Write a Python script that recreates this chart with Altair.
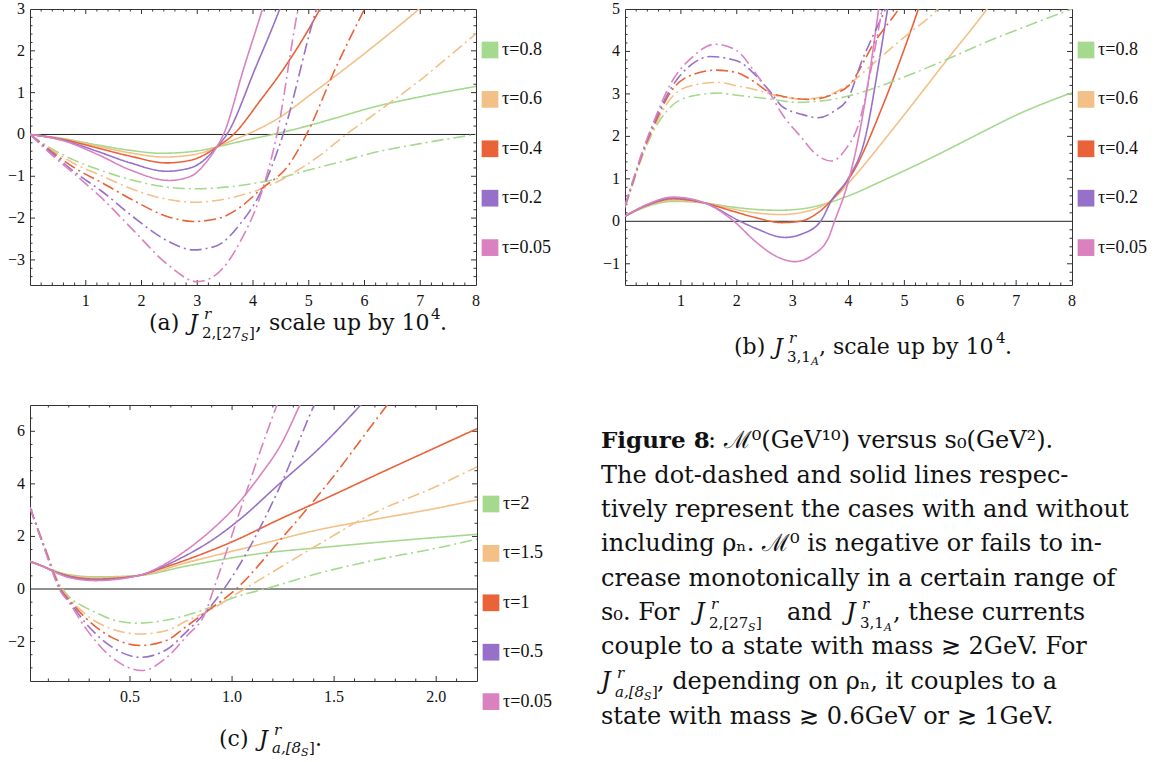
import altair as alt
import pandas as pd

SERIF = "Liberation Serif"
TXT = "DejaVu Serif"
COLORS = ["#A5D98E", "#F3C087", "#E96238", "#9771C9", "#DA82C0"]
TAU_AB = ["τ=0.8", "τ=0.6", "τ=0.4", "τ=0.2", "τ=0.05"]
TAU_C = ["τ=2", "τ=1.5", "τ=1", "τ=0.5", "τ=0.05"]
DOTDASH = [12, 4, 2, 4]

# tick labels
XLAB_AB = [1, 2, 3, 4, 5, 6, 7, 8]
XLAB_AB_TXT = ["1", "2", "3", "4", "5", "6", "7", "8"]
YLAB_A = [-3, -2, -1, 0, 1, 2, 3]
YLAB_A_TXT = ["−3", "−2", "−1", "0", "1", "2", "3"]
YLAB_B = [-1, 0, 1, 2, 3, 4, 5]
YLAB_B_TXT = ["−1", "0", "1", "2", "3", "4", "5"]
XLAB_C = [0.5, 1.0, 1.5, 2.0]
XLAB_C_TXT = ["0.5", "1.0", "1.5", "2.0"]
YLAB_C = [-2, 0, 2, 4, 6]
YLAB_C_TXT = ["−2", "0", "2", "4", "6"]

# ---------------- panel (a) ----------------
a_s_08 = [(0,0),(0.6,-0.1),(1.2,-0.25),(1.8,-0.38),(2.35,-0.45),(2.9,-0.41),(3.15,-0.36),(3.35,-0.30),(3.7,-0.19),(4.0,-0.1),(4.36,0),(5.02,0.22),(5.5,0.4),(6.09,0.63),(7,0.9),(8,1.15)]
a_s_06 = [(0,0),(0.6,-0.11),(1.2,-0.28),(1.8,-0.44),(2.4,-0.54),(2.9,-0.49),(3.15,-0.41),(3.35,-0.30),(3.6,-0.16),(3.89,0),(4.48,0.41),(5.0,0.92),(5.49,1.41),(6.09,2.03),(6.98,3.0),(7.5,3.6),(8,4.2)]
a_s_04 = [(0,0),(0.6,-0.12),(1.2,-0.32),(1.8,-0.52),(2.45,-0.68),(2.9,-0.61),(3.15,-0.47),(3.35,-0.30),(3.65,0),(4.13,0.81),(4.57,1.61),(5.2,3.0),(5.5,3.8)]
a_s_02 = [(0,0),(0.6,-0.14),(1.2,-0.4),(1.8,-0.68),(2.45,-0.88),(2.9,-0.79),(3.15,-0.58),(3.35,-0.30),(3.53,0),(4.05,1.61),(4.48,3.0),(4.7,3.8)]
a_s_005 = [(0,0),(0.6,-0.15),(1.2,-0.47),(1.8,-0.85),(2.5,-1.1),(2.9,-0.99),(3.15,-0.68),(3.35,-0.30),(3.47,0),(3.84,1.61),(4.17,3.0),(4.35,3.8)]

a_d_08 = [(0,0),(0.4,-0.35),(0.8,-0.62),(1.27,-0.86),(1.86,-1.1),(2.46,-1.26),(2.93,-1.30),(3.35,-1.28),(3.77,-1.22),(4.3,-1.10),(5.0,-0.85),(5.5,-0.68),(6.09,-0.46),(7,-0.22),(8,0.0)]
a_d_06 = [(0,0),(0.4,-0.38),(0.8,-0.7),(1.27,-0.98),(1.86,-1.32),(2.46,-1.55),(2.93,-1.62),(3.35,-1.58),(3.77,-1.46),(4.15,-1.30),(4.48,-1.10),(5.2,-0.5),(5.67,0),(6.09,0.4),(6.5,0.8),(7.0,1.3),(7.5,1.85),(8,2.41)]
a_d_04 = [(0,0),(0.4,-0.42),(0.8,-0.8),(1.27,-1.14),(1.86,-1.58),(2.46,-1.96),(2.93,-2.08),(3.35,-2.02),(3.77,-1.74),(4.15,-1.30),(4.63,-0.75),(4.96,0),(5.49,1.61),(6.0,3.0),(6.3,3.8)]
a_d_02 = [(0,0),(0.4,-0.45),(0.8,-0.9),(1.27,-1.34),(1.86,-1.98),(2.46,-2.54),(2.93,-2.76),(3.35,-2.66),(3.77,-2.14),(4.15,-1.35),(4.54,0),(5.14,3.0),(5.35,3.8)]
a_d_005 = [(0,0),(0.4,-0.5),(0.8,-0.95),(1.27,-1.5),(1.86,-2.30),(2.46,-3.10),(3.0,-3.52),(3.35,-3.34),(3.78,-2.54),(4.15,-1.40),(4.43,0),(4.81,3.0),(4.95,3.8)]

# ---------------- panel (b) ----------------
b_s_08 = [(0,0.12),(0.4,0.35),(0.86,0.47),(1.43,0.43),(1.9,0.34),(2.33,0.28),(2.75,0.26),(3.2,0.3),(3.7,0.46),(4.0,0.6),(4.6,0.95),(5.49,1.5),(6.39,2.1),(7.0,2.5),(8,3.03)]
b_s_06 = [(0,0.12),(0.4,0.37),(0.86,0.50),(1.43,0.43),(1.9,0.3),(2.33,0.2),(2.8,0.16),(3.2,0.22),(3.7,0.50),(4.1,1.05),(4.6,1.85),(5.2,2.85),(5.79,3.85),(6.48,5.0),(6.7,5.4)]
b_s_04 = [(0,0.12),(0.4,0.38),(0.86,0.53),(1.43,0.43),(1.9,0.25),(2.33,0.09),(2.8,-0.03),(3.13,0.0),(3.45,0.2),(3.7,0.50),(4.1,1.2),(4.6,2.68),(5.01,4.1),(5.25,5.0),(5.4,5.6)]
b_s_02 = [(0,0.12),(0.4,0.39),(0.86,0.55),(1.43,0.43),(2.06,0),(2.33,-0.16),(2.86,-0.38),(3.16,-0.3),(3.5,0),(3.7,0.5),(4.0,1.02),(4.3,1.97),(4.54,3.7),(4.7,5.0),(4.8,5.8)]
b_s_005 = [(0,0.12),(0.4,0.40),(0.86,0.57),(1.43,0.43),(1.95,0),(2.33,-0.47),(2.7,-0.82),(3.04,-0.95),(3.35,-0.8),(3.64,-0.39),(3.75,0),(4.0,0.95),(4.18,1.97),(4.54,5.0),(4.6,5.6)]

b_d_08 = [(0,0.33),(0.12,0.8),(0.3,1.5),(0.5,2.1),(0.83,2.71),(1.2,2.95),(1.69,3.02),(2.0,2.97),(2.33,2.92),(2.6,2.88),(3.1,2.8),(3.4,2.82),(4.0,2.95),(4.6,3.2),(5.19,3.5),(6.0,3.95),(6.39,4.18),(7.0,4.5),(8,5.0)]
b_d_06 = [(0,0.34),(0.12,0.81),(0.3,1.52),(0.5,2.15),(0.83,2.91),(1.2,3.2),(1.66,3.27),(2.0,3.19),(2.33,3.1),(2.6,3.0),(2.8,2.93),(3.2,2.88),(3.6,2.95),(4.0,3.22),(4.5,3.78),(5.0,4.34),(5.6,5.0),(5.8,5.3)]
b_d_04 = [(0,0.35),(0.12,0.83),(0.3,1.55),(0.5,2.2),(0.83,3.07),(1.2,3.45),(1.63,3.56),(2.0,3.5),(2.33,3.27),(2.6,3.02),(2.8,2.95),(3.34,2.87),(3.7,2.98),(4.0,3.19),(4.48,4.25),(4.9,5.0),(5.0,5.2)]
b_d_02 = [(0,0.36),(0.12,0.85),(0.3,1.58),(0.5,2.25),(0.83,3.15),(1.2,3.7),(1.52,3.88),(2.0,3.78),(2.33,3.45),(2.6,3.05),(2.8,2.72),(3.16,2.52),(3.46,2.44),(3.75,2.6),(4.0,2.91),(4.24,3.78),(4.45,4.4),(4.66,5.0),(4.75,5.3)]
b_d_005 = [(0,0.37),(0.12,0.87),(0.3,1.6),(0.5,2.3),(0.83,3.27),(1.2,3.86),(1.61,4.17),(2.0,4.02),(2.33,3.5),(2.6,3.0),(2.8,2.55),(3.16,1.97),(3.4,1.6),(3.7,1.42),(3.95,1.7),(4.18,2.28),(4.42,3.7),(4.6,5.0),(4.65,5.4)]

# ---------------- panel (c) ----------------
c_s_2 = [(0.01,1.05),(0.07,0.88),(0.13,0.7),(0.2,0.55),(0.33,0.46),(0.54,0.51),(0.78,0.88),(1.16,1.37),(1.44,1.58),(1.75,1.8),(2.0,1.96),(2.2,2.08)]
c_s_15 = [(0.01,1.05),(0.07,0.87),(0.13,0.68),(0.2,0.52),(0.33,0.42),(0.54,0.51),(0.78,1.01),(1.076,1.58),(1.44,2.28),(1.75,2.72),(2.0,3.07),(2.2,3.39)]
c_s_1 = [(0.01,1.05),(0.07,0.87),(0.13,0.67),(0.2,0.5),(0.33,0.38),(0.54,0.51),(0.66,0.8),(0.78,1.12),(1.01,1.83),(1.24,2.68),(1.44,3.38),(1.75,4.5),(2.0,5.39),(2.2,6.1)]
c_s_05 = [(0.01,1.05),(0.07,0.87),(0.13,0.66),(0.2,0.47),(0.33,0.35),(0.54,0.51),(0.66,0.85),(0.78,1.3),(0.9,1.85),(1.04,2.66),(1.22,3.92),(1.44,5.45),(1.63,7.0),(1.7,7.6)]
c_s_005 = [(0.01,1.05),(0.07,0.87),(0.13,0.65),(0.2,0.44),(0.33,0.32),(0.54,0.51),(0.66,0.9),(0.78,1.5),(0.9,2.25),(1.0,3.0),(1.14,4.35),(1.24,5.5),(1.33,6.96),(1.4,8.1)]

c_d_2 = [(0.01,3.1),(0.08,1.65),(0.16,0.1),(0.2,-0.28),(0.28,-0.70),(0.33,-0.89),(0.44,-1.22),(0.54,-1.30),(0.68,-1.18),(0.85,-0.82),(1.01,-0.32),(1.16,0),(1.44,0.63),(1.7,1.1),(2.0,1.55),(2.2,1.9)]
c_d_15 = [(0.01,3.1),(0.08,1.62),(0.16,0.05),(0.2,-0.33),(0.28,-0.95),(0.41,-1.52),(0.55,-1.71),(0.68,-1.58),(0.78,-1.2),(0.87,-0.89),(1.06,0),(1.44,1.77),(1.665,2.78),(2.0,3.9),(2.2,4.65)]
c_d_1 = [(0.01,3.1),(0.08,1.6),(0.16,0.0),(0.2,-0.4),(0.28,-1.08),(0.41,-1.84),(0.55,-2.15),(0.68,-1.95),(0.78,-1.4),(0.87,-0.89),(1.02,0),(1.24,1.9),(1.44,3.73),(1.76,7.0),(1.8,7.4)]
c_d_05 = [(0.01,3.1),(0.08,1.58),(0.16,-0.05),(0.2,-0.45),(0.28,-1.27),(0.41,-2.2),(0.55,-2.6),(0.68,-2.3),(0.78,-1.6),(0.87,-0.89),(0.96,0),(1.24,3.99),(1.40,6.96),(1.45,7.8)]
c_d_005 = [(0.01,3.1),(0.08,1.56),(0.16,-0.1),(0.2,-0.5),(0.28,-1.46),(0.41,-2.6),(0.56,-3.1),(0.68,-2.6),(0.78,-1.77),(0.87,-0.89),(0.91,0),(1.22,7.0),(1.26,7.8)]

# ---------------- texts (absolute page coordinates of baselines) ----------------
CAPTION_A = [("(a)", 148, 329, 22, "normal"), ("J", 188, 329, 22, "italic"), ("r", 203, 318, 15, "italic"),
             ("2,[27", 201, 337, 15, "normal"), ("S", 240, 340, 11, "italic"), ("]", 248, 337, 15, "normal"),
             (", scale up by 10", 254, 329, 22, "normal"), ("4", 430, 318, 15, "normal"), (".", 439, 329, 22, "normal")]
CAPTION_B = [("(b)", 733, 353, 22, "normal"), ("J", 773, 353, 22, "italic"), ("r", 788, 342, 15, "italic"),
             ("3,1", 786, 361, 15, "normal"), ("A", 810, 364, 11, "italic"),
             (", scale up by 10", 818, 353, 22, "normal"), ("4", 995, 342, 15, "normal"), (".", 1004, 353, 22, "normal")]
CAPTION_C = [("(c)", 218, 745, 22, "normal"), ("J", 258, 745, 22, "italic"), ("r", 273, 734, 15, "italic"),
             ("a,[8", 271, 752, 15, "italic"), ("S", 300, 755, 11, "italic"), ("]", 308, 752, 15, "normal"),
             (".", 314, 745, 22, "normal")]
BODY = [
    ("Figure 8", 600, 447, 23, "bold"),
    (": ℳ⁰(GeV¹⁰) versus s₀(GeV²).", 707, 447, 24, "normal"),
    ("The dot-dashed and solid lines respec-", 600, 482, 24, "normal"),
    ("tively represent the cases with and without", 600, 516, 24, "normal"),
    ("including ρₙ. ℳ⁰ is negative or fails to in-", 600, 550, 24, "normal"),
    ("crease monotonically in a certain range of", 600, 585, 24, "normal"),
    ("s₀.  For", 600, 619, 24, "normal"),
    ("J", 694, 619, 24, "italic"), ("r", 710, 608, 15, "italic"), ("2,[27", 708, 627, 15, "normal"),
    ("S", 747, 630, 11, "italic"), ("]", 755, 627, 15, "normal"),
    ("and", 786, 619, 24, "normal"),
    ("J", 845, 619, 24, "italic"), ("r", 861, 608, 15, "italic"), ("3,1", 859, 627, 15, "normal"),
    ("A", 883, 630, 11, "italic"), (",  these currents", 892, 619, 24, "normal"),
    ("couple to a state with mass ≳ 2GeV.  For", 600, 653, 24, "normal"),
    ("J", 600, 688, 24, "italic"), ("r", 616, 677, 15, "italic"), ("a,[8", 614, 696, 15, "italic"),
    ("S", 643, 699, 11, "italic"), ("]", 651, 696, 15, "normal"),
    (",  depending on ρₙ,  it couples to a", 656, 688, 24, "normal"),
    ("state with mass ≳ 0.6GeV or ≳ 1GeV.", 600, 723, 24, "normal"),
]

ORIGIN_A = (29, 8)  # page position of panel (a) plot area


def build_df(solids, dashes, taus):
    rows = []
    for i, (tau, pts) in enumerate(zip(taus, solids)):
        for x, y in pts:
            rows.append({"x": x, "y": y, "tau": tau, "kind": "solid", "sid": f"s{i}"})
    for i, (tau, pts) in enumerate(zip(taus, dashes)):
        for x, y in pts:
            rows.append({"x": x, "y": y, "tau": tau, "kind": "dash", "sid": f"d{i}"})
    return pd.DataFrame(rows)


def text_layers(pieces, origin):
    out = []
    for s, x, y, size, style in pieces:
        weight = "bold" if style == "bold" else "normal"
        fstyle = "italic" if style == "italic" else "normal"
        out.append(
            alt.Chart(pd.DataFrame({"t": [s]}))
            .mark_text(align="left", baseline="alphabetic", font=TXT, fontSize=size,
                       fontStyle=fstyle, fontWeight=weight, color="#111")
            .encode(x=alt.value(x - origin[0]), y=alt.value(y - origin[1]), text="t:N")
        )
    return out


def panel(df, taus, xdom, ydom, xl, xl_txt, yl, yl_txt, xmaj, xmin, ymaj, ymin, w, h, leg_y0, extra=()):
    xs = alt.Scale(domain=xdom, nice=False, zero=False)
    ys = alt.Scale(domain=ydom, nice=False, zero=False)
    lines = alt.Chart(df).mark_line(clip=True, strokeWidth=1.6, interpolate="monotone").encode(
        x=alt.X("x:Q", scale=xs, axis=None),
        y=alt.Y("y:Q", scale=ys, axis=None),
        color=alt.Color("tau:N", scale=alt.Scale(domain=taus, range=COLORS), legend=None),
        strokeDash=alt.StrokeDash("kind:N", scale=alt.Scale(domain=["solid", "dash"], range=[[1, 0], DOTDASH]), legend=None),
        detail="sid:N",
    )
    zero = alt.Chart(pd.DataFrame({"z": [0]})).mark_rule(color="#222", strokeWidth=1).encode(
        y=alt.Y("z:Q", scale=ys, axis=None))
    layers = [zero]
    for vals, L in ((xmaj, 5), (xmin, 2.5)):
        d = pd.DataFrame({"v": vals})
        layers.append(alt.Chart(d).mark_rule(color="#333", strokeWidth=1).encode(
            x=alt.X("v:Q", scale=xs, axis=None), y=alt.value(h), y2=alt.value(h - L)))
        layers.append(alt.Chart(d).mark_rule(color="#333", strokeWidth=1).encode(
            x=alt.X("v:Q", scale=xs, axis=None), y=alt.value(0), y2=alt.value(L)))
    for vals, L in ((ymaj, 5), (ymin, 2.5)):
        d = pd.DataFrame({"v": vals})
        layers.append(alt.Chart(d).mark_rule(color="#333", strokeWidth=1).encode(
            y=alt.Y("v:Q", scale=ys, axis=None), x=alt.value(0), x2=alt.value(L)))
        layers.append(alt.Chart(d).mark_rule(color="#333", strokeWidth=1).encode(
            y=alt.Y("v:Q", scale=ys, axis=None), x=alt.value(w), x2=alt.value(w - L)))
    # tick labels
    layers.append(alt.Chart(pd.DataFrame({"v": xl, "t": xl_txt})).mark_text(
        align="center", baseline="middle", font=SERIF, fontSize=16, color="#111").encode(
        x=alt.X("v:Q", scale=xs, axis=None), y=alt.value(h + 16), text="t:N"))
    layers.append(alt.Chart(pd.DataFrame({"v": yl, "t": yl_txt})).mark_text(
        align="right", baseline="middle", font=SERIF, fontSize=16, color="#111").encode(
        y=alt.Y("v:Q", scale=ys, axis=None), x=alt.value(-5), text="t:N"))
    layers.append(lines)
    for i, (t, c) in enumerate(zip(taus, COLORS)):
        cy = leg_y0 + i * 49.4
        d = pd.DataFrame({"t": [t]})
        layers.append(alt.Chart(d).mark_square(size=280, filled=True, opacity=1, color=c).encode(
            x=alt.value(w + 14), y=alt.value(cy)))
        layers.append(alt.Chart(d).mark_text(align="left", baseline="middle", font=SERIF, fontSize=18,
                                            color="#111").encode(x=alt.value(w + 26), y=alt.value(cy), text="t:N"))
    layers.extend(extra)
    return alt.layer(*layers).properties(width=w, height=h)


def frange(step, lo, hi, skip):
    n0 = int(round(lo / step))
    n1 = int(round(hi / step))
    return [round(k * step, 3) for k in range(n0, n1 + 1) if round(k * step, 3) not in skip]


W, H = 446, 276

df_a = build_df([a_s_08, a_s_06, a_s_04, a_s_02, a_s_005], [a_d_08, a_d_06, a_d_04, a_d_02, a_d_005], TAU_AB)
df_b = build_df([b_s_08, b_s_06, b_s_04, b_s_02, b_s_005], [b_d_08, b_d_06, b_d_04, b_d_02, b_d_005], TAU_AB)
df_c = build_df([c_s_2, c_s_15, c_s_1, c_s_05, c_s_005], [c_d_2, c_d_15, c_d_1, c_d_05, c_d_005], TAU_C)

texts = text_layers(CAPTION_A + CAPTION_B + CAPTION_C + BODY, ORIGIN_A)

xm_ab = [1, 2, 3, 4, 5, 6, 7]
pa = panel(df_a, TAU_AB, [0, 8], [-3.6, 3], XLAB_AB, XLAB_AB_TXT, YLAB_A, YLAB_A_TXT,
           xm_ab, frange(0.2, 0.2, 7.8, xm_ab), [-3, -2, -1, 1, 2],
           frange(0.2, -3.4, 2.8, [-3, -2, -1, 0, 1, 2]), W, H, 41, extra=texts)
pb = panel(df_b, TAU_AB, [0, 8], [-1.5, 5], XLAB_AB, XLAB_AB_TXT, YLAB_B, YLAB_B_TXT,
           xm_ab, frange(0.2, 0.2, 7.8, xm_ab), [-1, 1, 2, 3, 4],
           frange(0.2, -1.4, 4.8, [-1, 0, 1, 2, 3, 4]), W + 1, H, 41)
xm_c = [0.5, 1.0, 1.5, 2.0]
pc = panel(df_c, TAU_C, [0.01, 2.2], [-3.5, 7], XLAB_C, XLAB_C_TXT, YLAB_C, YLAB_C_TXT,
           xm_c, frange(0.1, 0.1, 2.1, xm_c), [-2, 2, 4, 6],
           frange(0.5, -3.0, 6.5, [-2, 0, 2, 4, 6]), W + 1, H, 99)

chart = alt.concat(pa, pb, pc, columns=2, spacing={"row": 120, "column": 148}, bounds="flush").resolve_scale(
    color="independent", strokeDash="independent", x="independent", y="independent"
).properties(
    padding={"left": 7, "top": 0, "right": 0, "bottom": 0},
    background="white",
).configure_view(stroke="#333", strokeWidth=1)

chart.save("out.html", embed_options={"renderer": "svg", "actions": False})
